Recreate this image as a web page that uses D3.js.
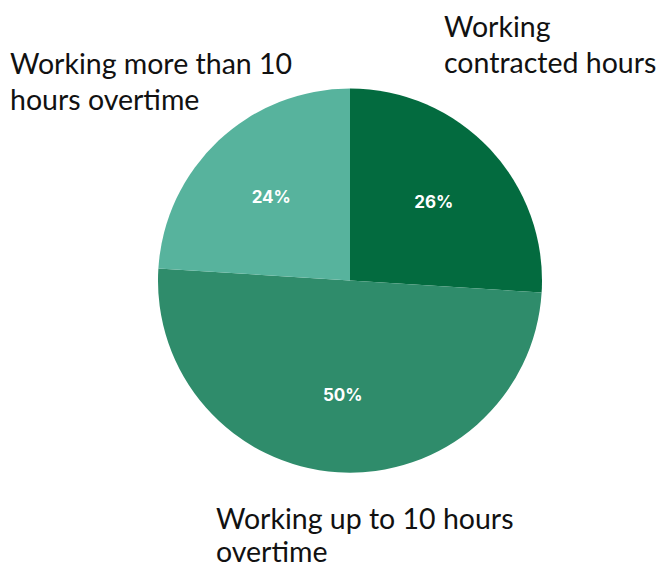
<!DOCTYPE html>
<html>
<head>
<meta charset="utf-8">
<script src="https://cdn.jsdelivr.net/npm/d3@7/dist/d3.min.js"></script>
<style>
  html, body { margin: 0; padding: 0; background: #fff; }
  svg { display: block; }
</style>
</head>
<body>
<svg id="chart" width="663" height="569"></svg>
<script>
// Share of staff by hours worked
const categories = ["Working contracted hours", "Working up to 10 hours overtime", "Working more than 10 hours overtime"];
const shares = [26, 50, 24];
const sliceColors = ["#036b3f", "#2f8c6b", "#57b39d"];
// Wrapped category label lines
const labelLines = [
  ["Working", "contracted hours"],
  ["Working up to 10 hours", "overtime"],
  ["Working more than 10", "hours overtime"]
];

const svg = d3.select("#chart");
const cx = 350, cy = 280.5, radius = 192;

const pie = d3.pie().sort(null).value(d => d.value);
const data = pie(categories.map((c, i) => ({ name: c, value: shares[i], color: sliceColors[i] })));

const arc = d3.arc().innerRadius(0).outerRadius(radius);
const labelArc = d3.arc().innerRadius(115).outerRadius(115);

const g = svg.append("g").attr("transform", `translate(${cx},${cy})`);

g.selectAll("path.slice")
  .data(data)
  .join("path")
  .attr("class", "slice")
  .attr("d", arc)
  .attr("fill", d => d.data.color);

g.selectAll("text.pct")
  .data(data)
  .join("text")
  .attr("class", "pct")
  .attr("transform", d => `translate(${labelArc.centroid(d)})`)
  .attr("text-anchor", "middle")
  .attr("dominant-baseline", "central")
  .attr("fill", "#ffffff")
  .attr("font-family", "Inter, 'Noto Sans', sans-serif")
  .attr("font-weight", 700)
  .attr("font-size", 17)
  .text(d => d.data.value + "%");

// Category labels placed outside the pie
const labelPos = [
  { x: 444, y: 37, gap: 36 },
  { x: 216, y: 529, gap: 33 },
  { x: 10, y: 74, gap: 36 }
];

labelLines.forEach((lines, i) => {
  const t = svg.append("text")
    .attr("x", labelPos[i].x)
    .attr("y", labelPos[i].y)
    .attr("fill", "#111")
    .attr("font-family", "Lato, 'Open Sans', sans-serif")
    .attr("font-size", 28.5);
  lines.forEach((ln, j) => {
    t.append("tspan")
      .attr("x", labelPos[i].x)
      .attr("dy", j === 0 ? 0 : labelPos[i].gap)
      .text(ln);
  });
});
</script>
</body>
</html>
